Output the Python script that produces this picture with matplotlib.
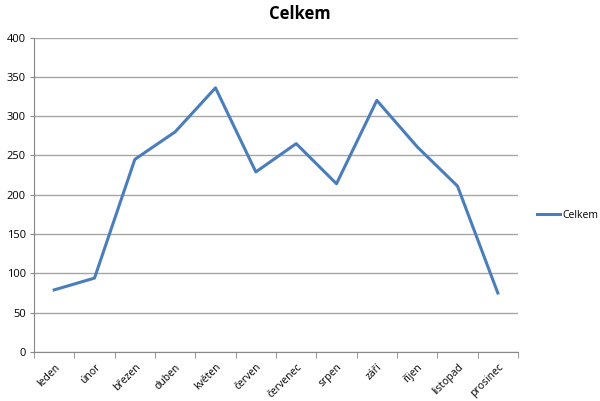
import matplotlib
matplotlib.use('Agg')
import matplotlib.pyplot as plt
import numpy as np

plt.rcParams['font.family'] = ['Open Sans', 'DejaVu Sans']

months = ['leden', 'únor', 'březen', 'duben', 'květen', 'červen',
          'červenec', 'srpen', 'září', 'říjen', 'listopad', 'prosinec']
celkem = [79, 94, 245, 280, 336, 229, 265, 214, 320, 261, 211, 75]

fig = plt.figure(figsize=(6, 4.01), dpi=100)
ax = fig.add_axes([34/600, 49/401, 484/600, 314.5/401])

x = np.arange(len(months))
ax.plot(x, celkem, color='#4A7EBB', lw=2.2, label='Celkem')

ax.set_xlim(-0.5, len(months) - 0.5)
ax.set_ylim(0, 400)
ax.set_yticks(range(0, 401, 50))
ax.set_xticks(x)
ax.set_xticklabels(months, rotation=45, ha='right', rotation_mode='anchor', fontsize=7.5)
ax.set_xticks(np.arange(-0.5, len(months), 1), minor=True)
ax.tick_params(axis='x', which='major', length=0, pad=7)
ax.tick_params(axis='x', which='minor', length=4, color='#888888', direction='out')
ax.tick_params(axis='y', length=3, color='#888888', labelsize=8, pad=3)

ax.grid(axis='y', color='#a6a6a6', lw=1)
ax.set_axisbelow(True)
for s in ['top', 'right']:
    ax.spines[s].set_visible(False)
for s in ['left', 'bottom']:
    ax.spines[s].set_color('#888888')

fig.text(0.5, 0.965, 'Celkem', ha='center', va='center', fontsize=12, fontweight='bold')
fig.legend(loc='center left', bbox_to_anchor=(528/600, 1 - 215/401), frameon=False,
           fontsize=7.5, handlelength=2.2, handletextpad=0.2)

fig.savefig('out.png', dpi=100)
